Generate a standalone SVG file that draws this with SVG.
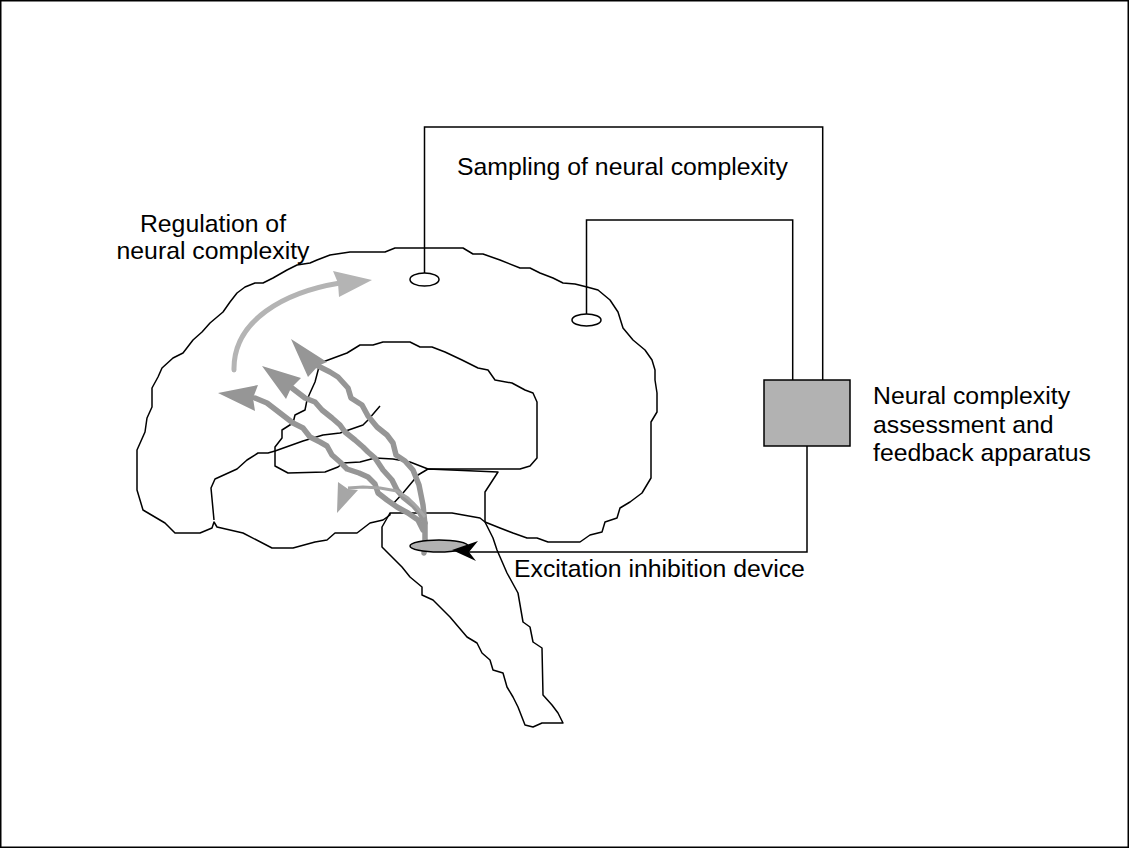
<svg xmlns="http://www.w3.org/2000/svg" width="1129" height="848" viewBox="0 0 1129 848">
<style>
.ln{fill:none;stroke:#000;stroke-width:1.5;stroke-linejoin:round}
.wire{fill:none;stroke:#000;stroke-width:1.5}
.wave{fill:none;stroke:#969696;stroke-width:5.5;stroke-linejoin:round;stroke-linecap:round}
.head{fill:#969696;stroke:none}
.lbl{font-family:"Liberation Sans",Arial,sans-serif;font-size:24.8px;fill:#000}
</style>
<rect x="0.75" y="0.75" width="1127.5" height="846.5" fill="#fff" stroke="#000" stroke-width="1.5"/>
<g id="brain">
<path class="ln" d="M390,513 L452,513 L480,518 L485,522 L500,528 L513,533 L527,538 L537,538 L548,542 L580,542 L590,535 L602,532 L605,522 L617,518 L620,508 L630,502 L642,493 L651,478 L651,422 L657,412 L657,393 L655,380 L655,370 L652,360 L645,350 L633,340 L623,328 L618,312 L610,300 L598,290 L587,287 L575,284 L563,283 L553,278 L540,273 L530,268 L520,268 L500,260 L483,254 L473,254 L463,248 L395,248 L385,252 L350,252 L330,255 L317,260 L310,263 L297,265 L287,270 L273,278 L263,283 L255,283 L245,287 L237,293 L230,302 L223,312 L210,323 L202,332 L193,340 L183,353 L173,358 L162,368 L158,377 L152,388 L152,407 L147,418 L145,432 L137,450 L137,490 L143,510 L165,523 L175,533 L200,533 L212,528 L214,522 L217,527 L243,533 L272,548 L293,548 L315,542 L327,540 L335,533 L357,533 L370,523 L383,520 L390,515 Z"/>
<path class="ln" d="M214,520 L211,488 L215,479 L237,469 L247,460 L258,453 L268,453 L275,451 L303,441 L323,435 L340,433 L363,425 L368,420 L380,406"/>
<path class="ln" d="M320,363 L347,353 L360,345 L373,345 L383,342 L410,342 L420,347 L432,347 L445,352 L462,360 L478,368 L488,370 L495,380 L512,383 L525,390 L533,393 L537,402 L537,458 L530,466 L520,469 L442,469 L428,469 L410,462 L393,459 L375,458 L360,462 L343,463 L338,467 L325,472 L288,473 L275,466 L275,447 L282,438 L282,430 L293,423 L295,415 L305,410 L307,400 L310,393 L315,382 Z"/>
<path class="ln" d="M392,505 L403,493 L418,475 L428,469 L498,472 L485,492 L485,522"/>
<path class="ln" d="M390,513 L382,527 L382,547 L392,557 L402,567 L410,577 L422,587 L422,595 L433,600 L450,617 L467,637 L477,643 L482,653 L490,660 L493,670 L503,673 L507,687 L513,697 L518,707 L525,725 L533,727 L542,723 L563,723 L558,713 L552,705 L543,695 L542,648 L533,642 L530,627 L523,622 L518,593 L507,573 L497,550 L493,538 L485,522"/>
</g>
<g id="regulation-arrows">
<path d="M234,370 C233,320 285,292 340,283" fill="none" stroke="#b4b4b4" stroke-width="5" stroke-linecap="round"/>
<polygon points="372,280 333,271 338,283 339,297" fill="#b4b4b4"/>
<path class="wave" d="M255,398 L267,403 L280,413 L293,423 L303,428 L310,437 L320,442 L327,446 L332,455 L340,462 L347,469 L359,473 L368,477 L375,484 L378,493 L387,500 L397,507 L408,513 L418,520 L423,530"/>
<polygon class="head" points="218,393 258,385 253,398 255,411"/>
<path class="wave" d="M292,388 L305,398 L315,402 L322,410 L332,418 L340,425 L345,432 L355,440 L363,447 L368,452 L375,458 L383,470 L392,480 L397,490 L403,497 L413,505 L420,513 L425,523"/>
<polygon class="head" points="262,366 301,378 291,388 286,399"/>
<path class="wave" d="M318,366 L330,372 L338,377 L348,388 L351,398 L362,405 L368,416 L377,427 L387,435 L393,443 L396,455 L405,461 L413,470 L419,485 L423,505 L425,525 L425,545 L424,553"/>
<polygon class="head" points="291,339 327,362 318,366 308,377"/>
<path d="M348,488 L363,487 L380,488 L397,491 L408,498 L417,507 L425,517" fill="none" stroke="#a6a6a6" stroke-width="3" stroke-linejoin="round"/>
<polygon points="337,513 338,482 348,489 358,490" fill="#a6a6a6"/>
</g>
<g id="electrode-1"><ellipse cx="424.5" cy="279.5" rx="14.5" ry="6.5" fill="#fff" stroke="#000" stroke-width="1.5"/></g>
<g id="electrode-2"><ellipse cx="586.5" cy="320" rx="14.5" ry="6" fill="#fff" stroke="#000" stroke-width="1.5"/></g>
<g id="device"><ellipse cx="439" cy="546" rx="29" ry="6" fill="#b2b2b2" stroke="#000" stroke-width="1.5"/></g>
<g id="apparatus"><rect x="764" y="380" width="86" height="66" fill="#b2b2b2" stroke="#000" stroke-width="1.5"/></g>
<g id="connectors">
<polyline class="wire" points="424.5,273 424.5,127 822.7,127 822.7,380"/>
<polyline class="wire" points="586.5,314 586.5,220 792.7,220 792.7,380"/>
<polyline class="wire" points="807,446 807,552 468,552"/>
<polygon points="452,550 478,541 469,552 476,561" fill="#000"/>
</g>
<g id="labels">
<text class="lbl" x="457" y="175">Sampling of neural complexity</text>
<text class="lbl" x="213" y="232" text-anchor="middle">Regulation of</text>
<text class="lbl" x="213" y="259" text-anchor="middle">neural complexity</text>
<text class="lbl" x="873" y="404">Neural complexity</text>
<text class="lbl" x="873" y="433">assessment and</text>
<text class="lbl" x="873" y="461">feedback apparatus</text>
<text class="lbl" x="514" y="577">Excitation inhibition device</text>
</g>
</svg>
